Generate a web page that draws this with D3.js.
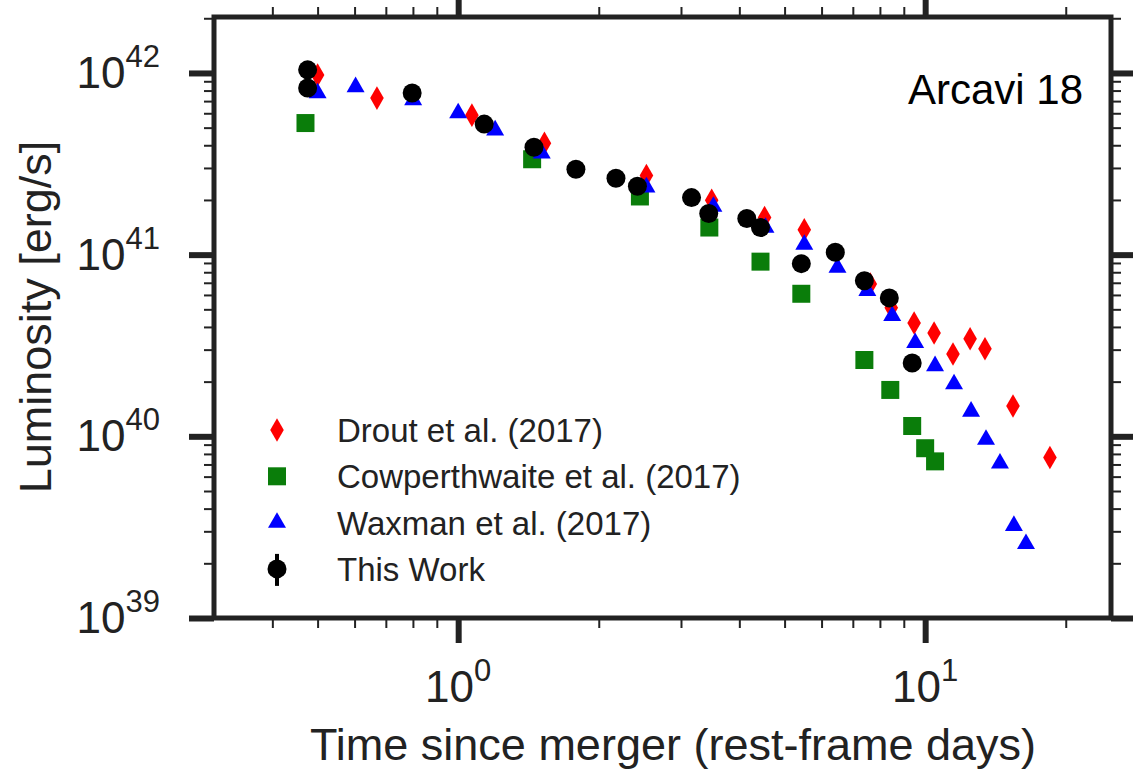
<!DOCTYPE html>
<html>
<head>
<meta charset="utf-8">
<script src="https://cdn.jsdelivr.net/npm/d3@7"></script>
<style>
  body { margin: 0; background: #fff; }
  text { font-family: "Liberation Sans", Arial, sans-serif; fill: #222; }
</style>
</head>
<body>
<div id="chart"></div>
<script>
const SVG_WIDTH = 1133;
const SVG_HEIGHT = 772;

const FRAME = { left: 214, right: 1111, top: 17, bottom: 618 };

// Drout et al. (2017)
const droutDays = [0.50, 0.67, 1.07, 1.53, 2.53, 3.49, 4.53, 5.51, 7.63, 8.46, 9.47, 10.45, 11.47, 12.48, 13.43, 15.42, 18.5];
const droutLum  = [9.75e41, 7.27e41, 5.86e41, 4.10e41, 2.73e41, 1.99e41, 1.60e41, 1.37e41, 6.9e40, 5.1e40, 4.2e40, 3.7e40, 2.84e40, 3.44e40, 3.03e40, 1.47e40, 7.65e39];

// Cowperthwaite et al. (2017)
const cowpDays = [0.471, 1.44, 2.45, 3.45, 4.44, 5.43, 7.41, 8.42, 9.38, 10.0, 10.5];
const cowpLum  = [5.3e41, 3.35e41, 2.09e41, 1.41e41, 9.15e40, 6.09e40, 2.63e40, 1.8e40, 1.14e40, 8.6e39, 7.28e39];

// Waxman et al. (2017)
const waxDays = [0.50, 0.603, 0.801, 1.0, 1.2, 1.51, 2.53, 3.52, 4.55, 5.51, 6.49, 7.52, 8.5, 9.52, 10.5, 11.53, 12.54, 13.5, 14.46, 15.49, 16.44];
const waxLum  = [7.75e41, 8.37e41, 7.1e41, 6.01e41, 4.84e41, 3.61e41, 2.35e41, 1.84e41, 1.41e41, 1.135e41, 8.48e40, 6.33e40, 4.6e40, 3.27e40, 2.44e40, 1.94e40, 1.37e40, 9.6e39, 7.1e39, 3.22e39, 2.56e39];

// This Work
const thisDays = [0.476, 0.476, 0.797, 1.137, 1.453, 1.787, 2.177, 2.42, 3.16, 3.44, 4.15, 4.44, 5.43, 6.42, 7.41, 8.38, 9.38];
const thisLum  = [1.04e42, 8.26e41, 7.75e41, 5.23e41, 3.9e41, 2.95e41, 2.63e41, 2.38e41, 2.06e41, 1.685e41, 1.58e41, 1.41e41, 8.92e40, 1.03e41, 7.18e40, 5.78e40, 2.53e40];

const legendLabels = ["Drout et al. (2017)", "Cowperthwaite et al. (2017)", "Waxman et al. (2017)", "This Work"];

const xMajor = [1, 10];
const xMinor = [0.4, 0.5, 0.6, 0.7, 0.8, 0.9, 2, 3, 4, 5, 6, 7, 8, 9, 20];
const xMajorExp = ["0", "1"];
const yMajorExp = [39, 40, 41, 42];
const yMajor = yMajorExp.map(e => Math.pow(10, e));
const yMinor = [];
[39, 40, 41].forEach(e => { for (let k = 2; k <= 9; k++) yMinor.push(k * Math.pow(10, e)); });
yMinor.push(2e42);

const SVG = d3.select("#chart").append("svg")
    .attr("width", SVG_WIDTH).attr("height", SVG_HEIGHT);

SVG.append("rect").attr("width", SVG_WIDTH).attr("height", SVG_HEIGHT).attr("fill", "#fff");

const XScale = d3.scaleLog()
    .domain([0.3, 25])
    .range([FRAME.left, FRAME.right]);

const YScale = d3.scaleLog()
    .domain([1e39, Math.pow(10, 42.308)])
    .range([FRAME.bottom, FRAME.top]);

// ticks, all pointing outward
let tickGroup = (axis, tx, ty) => {
    let g = SVG.append("g").attr("transform", `translate(${tx}, ${ty})`).call(axis);
    g.select(".domain").remove();
    return g;
};

let drawTicks = (values, size, width) => {
    let sets = [
        [d3.axisBottom(XScale), 0, FRAME.bottom, "x"],
        [d3.axisTop(XScale), 0, FRAME.top, "x"],
        [d3.axisLeft(YScale), FRAME.left, 0, "y"],
        [d3.axisRight(YScale), FRAME.right, 0, "y"],
    ];
    sets.forEach(([axis, tx, ty, kind]) => {
        axis.tickValues(kind == "x" ? values.x : values.y).tickSize(size).tickFormat("");
        let g = tickGroup(axis, tx, ty);
        g.selectAll("line").attr("stroke", "#222").attr("stroke-width", width);
    });
};

drawTicks({ x: xMinor, y: yMinor }, 10, 2);
drawTicks({ x: xMajor, y: yMajor }, 25, 6);

// frame
SVG.append("rect")
    .attr("x", FRAME.left).attr("y", FRAME.top)
    .attr("width", FRAME.right - FRAME.left)
    .attr("height", FRAME.bottom - FRAME.top)
    .attr("fill", "none")
    .attr("stroke", "#222")
    .attr("stroke-width", 5);

// tick labels
yMajorExp.forEach((e) => {
    let t = SVG.append("text")
        .attr("x", 160)
        .attr("y", YScale(Math.pow(10, e)) + 15)
        .attr("text-anchor", "end")
        .attr("font-size", 44);
    t.append("tspan").text("10");
    t.append("tspan").attr("dy", -21).attr("font-size", 31).text(e);
});

xMajor.forEach((v, i) => {
    let t = SVG.append("text")
        .attr("x", XScale(v))
        .attr("y", 702)
        .attr("text-anchor", "middle")
        .attr("font-size", 44);
    t.append("tspan").text("10");
    t.append("tspan").attr("dy", -21).attr("font-size", 31).text(xMajorExp[i]);
});

// axis titles
SVG.append("text")
    .text("Time since merger (rest-frame days)")
    .attr("x", 673)
    .attr("y", 760)
    .attr("text-anchor", "middle")
    .attr("font-size", 45);

SVG.append("text")
    .text("Luminosity [erg/s]")
    .attr("transform", "translate(51, 317) rotate(-90)")
    .attr("text-anchor", "middle")
    .attr("font-size", 45);

SVG.append("text")
    .text("Arcavi 18")
    .attr("x", 1083)
    .attr("y", 104)
    .attr("text-anchor", "end")
    .attr("font-family", "'Open Sans', 'Noto Sans', sans-serif")
    .attr("font-size", 42)
    .style("fill", "#000");

// markers
const series = [
    { days: droutDays, lum: droutLum, color: "#ff0000", symbol: d3.symbol().type(d3.symbolDiamond).size(160) },
    { days: cowpDays,  lum: cowpLum,  color: "#0a7d0a", symbol: d3.symbol().type(d3.symbolSquare).size(324) },
    { days: waxDays,   lum: waxLum,   color: "#0000ff", symbol: d3.symbol().type(d3.symbolTriangle).size(140) },
    { days: thisDays,  lum: thisLum,  color: "#000000", symbol: d3.symbol().type(d3.symbolCircle).size(Math.PI * 9.5 * 9.5) },
];

const points = SVG.append("g").attr("id", "points");
series.forEach((s) => {
    points.append("g")
        .selectAll("path")
        .data(s.days.map((d, i) => ({ t: d, L: s.lum[i] })))
        .join("path")
        .attr("d", s.symbol())
        .attr("fill", s.color)
        .attr("transform", (d) => `translate(${XScale(d.t)}, ${YScale(d.L)})`);
});

// legend
const legend = SVG.append("g").attr("id", "legend");
series.forEach((s, i) => {
    let cy = 430 + i * 46.3;
    if (i == 3) {
        legend.append("line")
            .attr("x1", 277).attr("x2", 277)
            .attr("y1", cy - 15).attr("y2", cy + 17)
            .attr("stroke", "#000").attr("stroke-width", 4);
    }
    legend.append("path")
        .attr("d", s.symbol())
        .attr("fill", s.color)
        .attr("transform", `translate(277, ${cy})`);
    legend.append("text")
        .text(legendLabels[i])
        .attr("x", 337)
        .attr("y", cy + 12)
        .attr("font-size", 33);
});
</script>
</body>
</html>
